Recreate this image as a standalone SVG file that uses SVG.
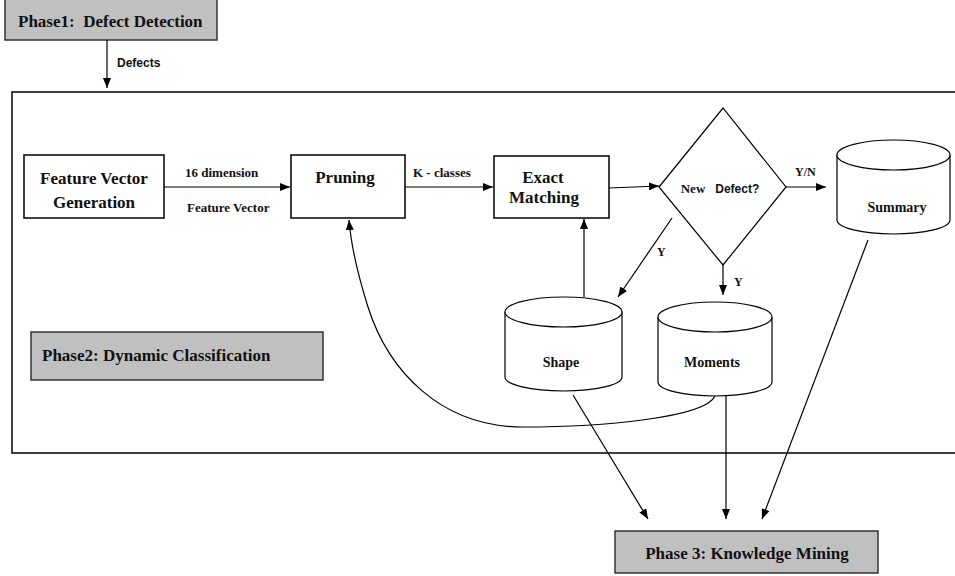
<svg xmlns="http://www.w3.org/2000/svg" width="955" height="576" viewBox="0 0 955 576">
<style>
.box{fill:#fff;stroke:#000;stroke-width:1.5}
.gray{fill:#c0c0c0;stroke:#333;stroke-width:1.5}
.t{font-family:"Liberation Serif","Times New Roman",serif;font-weight:bold;fill:#111}
.a{font-family:"Liberation Sans",Arial,sans-serif;font-weight:bold;fill:#111}
.c{fill:none;stroke:#000;stroke-width:1.2}
</style>
<defs>
<marker id="ah" viewBox="0 0 10 8" refX="10" refY="4" markerWidth="10" markerHeight="8" markerUnits="userSpaceOnUse" orient="auto">
<path d="M0,0 L10,4 L0,8 Z" fill="#000"/>
</marker>
</defs>
<rect width="955" height="576" fill="#fff"/>
<g id="container">
<path d="M960,92 H12 V453 H960" fill="none" stroke="#000" stroke-width="1.5"/>
</g>
<g id="phase1">
<rect class="gray" x="5" y="-5" width="212" height="45"/>
<text class="t" x="18" y="27" font-size="17" xml:space="preserve">Phase1:  Defect Detection</text>
</g>
<g id="featvec">
<rect class="box" x="24" y="155" width="140" height="63"/>
<text class="t" x="94" y="184" font-size="17" text-anchor="middle">Feature Vector</text>
<text class="t" x="94" y="208" font-size="17" text-anchor="middle">Generation</text>
</g>
<g id="pruning">
<rect class="box" x="291" y="155" width="114" height="63"/>
<text class="t" x="345" y="183" font-size="17" text-anchor="middle">Pruning</text>
</g>
<g id="exact">
<rect class="box" x="494" y="156" width="115" height="62"/>
<text class="t" x="543" y="183" font-size="17" text-anchor="middle">Exact</text>
<text class="t" x="544" y="203" font-size="17" text-anchor="middle">Matching</text>
</g>
<g id="decision">
<path class="box" style="stroke-width:1.2" d="M659,187 L723,108 L786,187 L723,265 Z"/>
<text x="720" y="193" font-size="12" text-anchor="middle"><tspan class="t" font-size="13">New</tspan><tspan class="a" dx="10">Defect?</tspan></text>
</g>
<g id="summary">
<path class="box" style="stroke-width:1.2" d="M837,155 V220 A56.5,14 0 0 0 950,220 V155"/>
<ellipse class="box" style="stroke-width:1.2" cx="893.5" cy="155" rx="56.5" ry="15"/>
<text class="t" x="897" y="212" font-size="14" text-anchor="middle">Summary</text>
</g>
<g id="shape">
<path class="box" style="stroke-width:1.2" d="M505,312 V377 A58.5,14 0 0 0 622,377 V312"/>
<ellipse class="box" style="stroke-width:1.2" cx="563.5" cy="312" rx="58.5" ry="15"/>
<text class="t" x="561" y="367" font-size="14" text-anchor="middle">Shape</text>
</g>
<g id="moments">
<path class="box" style="stroke-width:1.2" d="M658,317 V382 A57,14 0 0 0 772,382 V317"/>
<ellipse class="box" style="stroke-width:1.2" cx="715" cy="317" rx="57" ry="15"/>
<text class="t" x="712" y="367" font-size="14" text-anchor="middle">Moments</text>
</g>
<g id="phase2">
<rect class="gray" x="31" y="332" width="292" height="48"/>
<text class="t" x="42" y="361" font-size="17">Phase2: Dynamic Classification</text>
</g>
<g id="phase3">
<rect class="gray" x="615" y="531" width="263" height="42"/>
<text class="t" x="747" y="559" font-size="17" text-anchor="middle">Phase 3: Knowledge Mining</text>
</g>
<g id="connectors">
<line class="c" x1="107" y1="40" x2="107" y2="88" marker-end="url(#ah)"/>
<text class="a" x="117" y="67" font-size="12">Defects</text>
<line class="c" x1="164" y1="187" x2="290" y2="187" marker-end="url(#ah)"/>
<text class="t" x="185" y="177" font-size="13">16 dimension</text>
<text class="t" x="187" y="212" font-size="13">Feature Vector</text>
<line class="c" x1="405" y1="187" x2="493" y2="187" marker-end="url(#ah)"/>
<text class="t" x="413" y="177" font-size="13">K - classes</text>
<line class="c" x1="609" y1="188" x2="659" y2="186" marker-end="url(#ah)"/>
<line class="c" x1="786" y1="187" x2="826" y2="187" marker-end="url(#ah)"/>
<text class="t" x="795" y="176" font-size="12">Y/N</text>
<line class="c" x1="672" y1="218" x2="618" y2="297" marker-end="url(#ah)"/>
<text class="t" x="657" y="256" font-size="12">Y</text>
<line class="c" x1="723" y1="265" x2="723" y2="295" marker-end="url(#ah)"/>
<text class="t" x="734" y="286" font-size="12">Y</text>
<line class="c" x1="584" y1="297" x2="584" y2="219" marker-end="url(#ah)"/>
<path class="c" d="M715,396 C705,418 600,427 523,427 C440,427 388,370 368,307 C357,272 351,245 349,220" marker-end="url(#ah)"/>
<line class="c" x1="573" y1="395" x2="648" y2="519" marker-end="url(#ah)"/>
<line class="c" x1="726" y1="396" x2="726" y2="519" marker-end="url(#ah)"/>
<line class="c" x1="868" y1="240" x2="762" y2="519" marker-end="url(#ah)"/>
</g>
</svg>
